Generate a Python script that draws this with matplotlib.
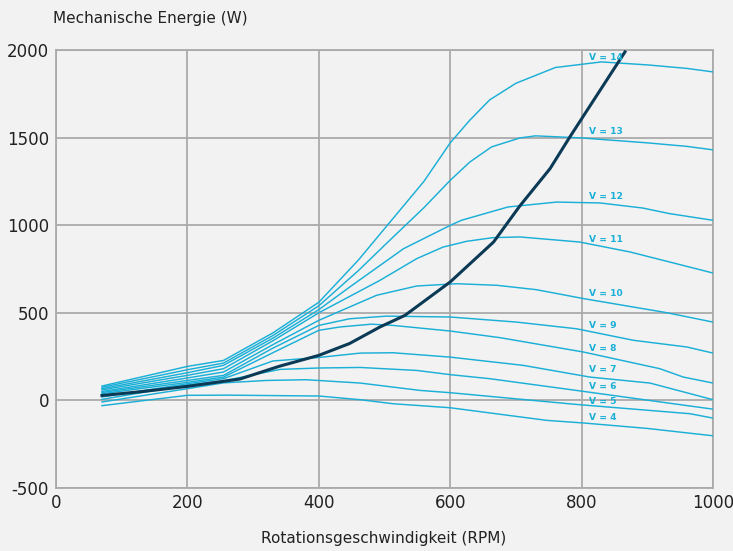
import matplotlib
matplotlib.use("Agg")
import matplotlib.pyplot as plt

# ---- data ----
v_labels = ["V = 14", "V = 13", "V = 12", "V = 11", "V = 10", "V = 9",
            "V = 8", "V = 7", "V = 6", "V = 5", "V = 4"]

v14_x = [70, 200, 255, 330, 400, 460, 500, 560, 600, 630, 660, 700, 760, 830, 900, 960, 1000]
v14_y = [82, 194, 228, 385, 560, 800, 980, 1250, 1470, 1600, 1715, 1810, 1900, 1932, 1915, 1895, 1875]

v13_x = [70, 200, 255, 330, 400, 460, 508, 560, 600, 630, 663, 706, 730, 800, 900, 960, 1000]
v13_y = [75, 175, 213, 370, 540, 740, 914, 1100, 1256, 1361, 1447, 1498, 1510, 1498, 1470, 1450, 1430]

v12_x = [70, 200, 255, 330, 400, 447, 529, 600, 617, 688, 762, 828, 893, 934, 1000]
v12_y = [67, 158, 200, 355, 518, 647, 866, 999, 1028, 1104, 1132, 1127, 1098, 1066, 1028]

v11_x = [70, 200, 255, 330, 400, 493, 549, 589, 625, 665, 706, 797, 874, 1000]
v11_y = [60, 143, 181, 340, 500, 685, 809, 875, 908, 929, 933, 904, 847, 727]

v10_x = [70, 200, 255, 330, 400, 488, 549, 610, 671, 731, 803, 929, 1000]
v10_y = [51, 128, 162, 318, 457, 600, 653, 666, 657, 632, 581, 501, 447]

v9_x = [70, 200, 255, 330, 400, 447, 503, 600, 701, 792, 879, 960, 1000]
v9_y = [45, 114, 143, 298, 428, 466, 481, 476, 447, 409, 343, 305, 270]

v8_x = [70, 200, 255, 330, 400, 432, 480, 513, 600, 676, 803, 919, 955, 1000]
v8_y = [38, 103, 133, 272, 400, 419, 435, 428, 396, 358, 276, 181, 133, 99]

v7_x = [70, 200, 255, 330, 400, 463, 513, 600, 711, 813, 904, 1000]
v7_y = [20, 95, 124, 225, 245, 270, 272, 247, 200, 133, 99, 4]

v6_x = [70, 200, 255, 341, 400, 463, 549, 600, 660, 792, 1000]
v6_y = [6, 88, 112, 177, 185, 188, 171, 147, 124, 57, -50]

v5_x = [70, 200, 255, 321, 381, 463, 554, 600, 792, 965, 1000]
v5_y = [-9, 67, 100, 114, 118, 99, 57, 44, -23, -76, -101]

v4_x = [70, 200, 260, 400, 463, 513, 600, 747, 803, 900, 1000]
v4_y = [-30, 29, 30, 25, 4, -19, -42, -114, -129, -160, -202]

opt_x = [70, 130, 200, 280, 340, 400, 447, 493, 531, 600, 666, 706, 752, 782, 866]
opt_y = [28, 50, 80, 122, 195, 257, 325, 419, 485, 676, 904, 1110, 1323, 1503, 1989]

x_ticks = [0, 200, 400, 600, 800, 1000]
y_ticks = [-500, 0, 500, 1000, 1500, 2000]

# label anchor heights (text placement only)
label_y = [1957, 1534, 1165, 919, 609, 428, 295, 175, 80, -4, -99]
label_x = 812

series = [(v14_x, v14_y), (v13_x, v13_y), (v12_x, v12_y), (v11_x, v11_y),
          (v10_x, v10_y), (v9_x, v9_y), (v8_x, v8_y), (v7_x, v7_y),
          (v6_x, v6_y), (v5_x, v5_y), (v4_x, v4_y)]

# ---- style ----
bg = "#f2f2f2"
grid_c = "#aaaaaa"
light = "#1aafd7"
dark = "#0b3a56"
txt = "#222222"

fig = plt.figure(figsize=(7.33, 5.51), dpi=100, facecolor=bg)
ax = fig.add_axes([56 / 733, 1 - 488 / 551, (713 - 56) / 733, (488 - 50) / 551])
ax.set_facecolor(bg)

for (xs, ys) in series:
    ax.plot(xs, ys, color=light, lw=1.05, zorder=3)
ax.plot(opt_x, opt_y, color=dark, lw=2.2, zorder=4)

for lab, ly in zip(v_labels, label_y):
    ax.text(label_x, ly, lab, color=light, fontsize=6.6, fontweight="bold",
            ha="left", va="center", zorder=5)

ax.set_xlim(0, 1000)
ax.set_ylim(-500, 2000)
ax.set_xticks(x_ticks)
ax.set_yticks(y_ticks)
ax.set_xticklabels([str(t) for t in x_ticks])
ax.set_yticklabels([str(t) for t in y_ticks])
ax.tick_params(length=0, labelsize=12, colors=txt)
ax.tick_params(axis="y", pad=5)
ax.tick_params(axis="x", pad=4)
ax.grid(True, color=grid_c, lw=1.3, zorder=1)
ax.set_axisbelow(True)
for s in ax.spines.values():
    s.set_color(grid_c)
    s.set_linewidth(1.3)

fig.text(53 / 733, 1 - 18 / 551, "Mechanische Energie (W)", fontsize=11,
         color=txt, ha="left", va="center")
fig.text(384 / 733, 1 - 538 / 551, "Rotationsgeschwindigkeit (RPM)", fontsize=11,
         color=txt, ha="center", va="center")

fig.savefig("out.png", dpi=100, facecolor=bg)
